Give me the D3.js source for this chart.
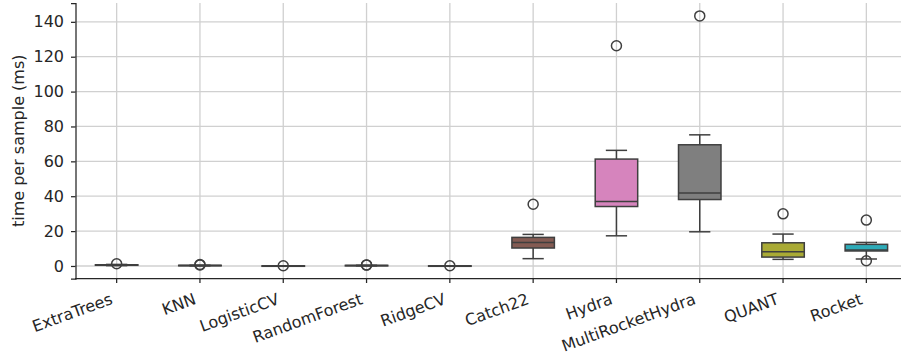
<!DOCTYPE html>
<html>
<head>
<meta charset="utf-8">
<script src="https://cdn.jsdelivr.net/npm/d3@7"></script>
<style>
  body { margin: 0; background: #fff; }
  svg { display: block; font-family: "DejaVu Sans", sans-serif; }
</style>
</head>
<body>
<div id="chart"></div>
<script>
'use strict';

// box statistics (ms per sample)
var categories = ["ExtraTrees", "KNN", "LogisticCV", "RandomForest", "RidgeCV",
                  "Catch22", "Hydra", "MultiRocketHydra", "QUANT", "Rocket"];
var q1Values     = [0.4, 0.2, 0.05, 0.2, 0.05, 10.3, 34.1, 38.1, 5.1, 8.6];
var medianValues = [0.5, 0.3, 0.08, 0.3, 0.07, 13.5, 37.0, 41.9, 8.2, 9.2];
var q3Values     = [0.7, 0.4, 0.1, 0.35, 0.1, 16.4, 61.3, 69.5, 13.3, 12.4];
var whiskerLow   = [0.2, 0.1, 0.02, 0.1, 0.02, 4.2, 17.3, 19.6, 3.8, 4.0];
var whiskerHigh  = [0.9, 0.45, 0.12, 0.4, 0.12, 18.1, 66.3, 75.2, 18.3, 13.5];
var outliers     = [[1.3], [0.6, 0.8], [0.15], [0.5, 0.6], [0.12],
                    [35.4], [126.3], [143.4], [29.9], [26.3, 3.0]];
var boxColors    = ["#3274a1", "#e1812c", "#3a923a", "#c03d3e", "#9372b2",
                    "#845b53", "#d684bd", "#7f7f7f", "#a9aa35", "#2eabb8"];
var yTicks = [0, 20, 40, 60, 80, 100, 120, 140];

var chart = {};

chart.width = 901;
chart.height = 358;
chart.margin = { left: 75, top: 3, bottom: 80 };
chart.lineColor = "#3f3f3f";
chart.textColor = "#262626";
chart.gridColor = "#d0d0d0";

chart.run = function ()
{
    var svg = d3.select("#chart").append("svg")
        .attr("width", chart.width)
        .attr("height", chart.height);

    var plotBottom = chart.height - chart.margin.bottom + 0.5;   // 278.5
    var plotRight = 908;

    var x = d3.scaleBand()
        .domain(categories)
        .range([chart.margin.left, plotRight]);

    var y = d3.scaleLinear()
        .domain([-7.18, 150.8])
        .range([plotBottom, chart.margin.top]);

    var bw = x.bandwidth();
    var boxW = bw * 0.51;
    var center = function (c) { return x(c) + bw / 2; };

    // grid
    svg.append("g").selectAll("line")
        .data(yTicks).enter().append("line")
            .attr("x1", chart.margin.left).attr("x2", plotRight)
            .attr("y1", function (d) { return y(d); })
            .attr("y2", function (d) { return y(d); })
            .attr("stroke", chart.gridColor).attr("stroke-width", 1.3);

    svg.append("g").selectAll("line")
        .data(categories).enter().append("line")
            .attr("x1", center).attr("x2", center)
            .attr("y1", chart.margin.top).attr("y2", plotBottom)
            .attr("stroke", chart.gridColor).attr("stroke-width", 1.3);

    // boxes
    var boxes = svg.append("g").selectAll("g")
        .data(categories).enter().append("g");

    boxes.append("line")
        .attr("x1", center).attr("x2", center)
        .attr("y1", function (d, i) { return y(whiskerLow[i]); })
        .attr("y2", function (d, i) { return y(q1Values[i]); })
        .attr("stroke", chart.lineColor).attr("stroke-width", 1.5);

    boxes.append("line")
        .attr("x1", center).attr("x2", center)
        .attr("y1", function (d, i) { return y(q3Values[i]); })
        .attr("y2", function (d, i) { return y(whiskerHigh[i]); })
        .attr("stroke", chart.lineColor).attr("stroke-width", 1.5);

    [whiskerLow, whiskerHigh].forEach(function (arr) {
        boxes.append("line")
            .attr("x1", function (d) { return center(d) - boxW / 4; })
            .attr("x2", function (d) { return center(d) + boxW / 4; })
            .attr("y1", function (d, i) { return y(arr[i]); })
            .attr("y2", function (d, i) { return y(arr[i]); })
            .attr("stroke", chart.lineColor).attr("stroke-width", 1.5);
    });

    boxes.append("rect")
        .attr("x", function (d) { return center(d) - boxW / 2; })
        .attr("width", boxW)
        .attr("y", function (d, i) { return y(q3Values[i]); })
        .attr("height", function (d, i) { return Math.max(0.5, y(q1Values[i]) - y(q3Values[i])); })
        .attr("fill", function (d, i) { return boxColors[i]; })
        .attr("stroke", chart.lineColor).attr("stroke-width", 1.5);

    boxes.append("line")
        .attr("x1", function (d) { return center(d) - boxW / 2; })
        .attr("x2", function (d) { return center(d) + boxW / 2; })
        .attr("y1", function (d, i) { return y(medianValues[i]); })
        .attr("y2", function (d, i) { return y(medianValues[i]); })
        .attr("stroke", chart.lineColor).attr("stroke-width", 1.5);

    boxes.selectAll("circle")
        .data(function (d, i) { return outliers[i].map(function (v) { return { c: d, v: v }; }); })
        .enter().append("circle")
            .attr("cx", function (d) { return center(d.c); })
            .attr("cy", function (d) { return y(d.v); })
            .attr("r", 5)
            .attr("fill", "none")
            .attr("stroke", chart.lineColor).attr("stroke-width", 1.5);

    // axes
    var yAxis = svg.append("g")
        .attr("transform", "translate(" + (chart.margin.left + 0.5) + ",0)")
        .call(d3.axisLeft(y).tickValues(yTicks).tickSize(4.5).tickPadding(7));

    var xAxis = svg.append("g")
        .attr("transform", "translate(0," + plotBottom + ")")
        .call(d3.axisBottom(x).tickSize(4.5).tickPadding(4));

    [yAxis, xAxis].forEach(function (ax) {
        ax.select(".domain").attr("stroke", chart.textColor).attr("stroke-width", 1.25);
        ax.selectAll(".tick line").attr("stroke", chart.textColor).attr("stroke-width", 1.25);
        ax.selectAll("text")
            .attr("fill", chart.textColor)
            .attr("font-size", "16px")
            .attr("font-family", "DejaVu Sans");
    });

    xAxis.select(".domain").attr("d", "M" + chart.margin.left + ",0H" + plotRight);

    xAxis.selectAll(".tick text")
        .attr("text-anchor", "end")
        .attr("dy", 0)
        .attr("x", -3)
        .attr("y", 25)
        .attr("transform", "rotate(-20 -3 25)");

    svg.append("text")
        .attr("transform", "translate(23.5," + ((chart.margin.top + plotBottom) / 2) + ") rotate(-90)")
        .attr("text-anchor", "middle")
        .attr("fill", chart.textColor)
        .attr("font-size", "16px")
        .text("time per sample (ms)");
}

window.onload = chart.run;
</script>
</body>
</html>
